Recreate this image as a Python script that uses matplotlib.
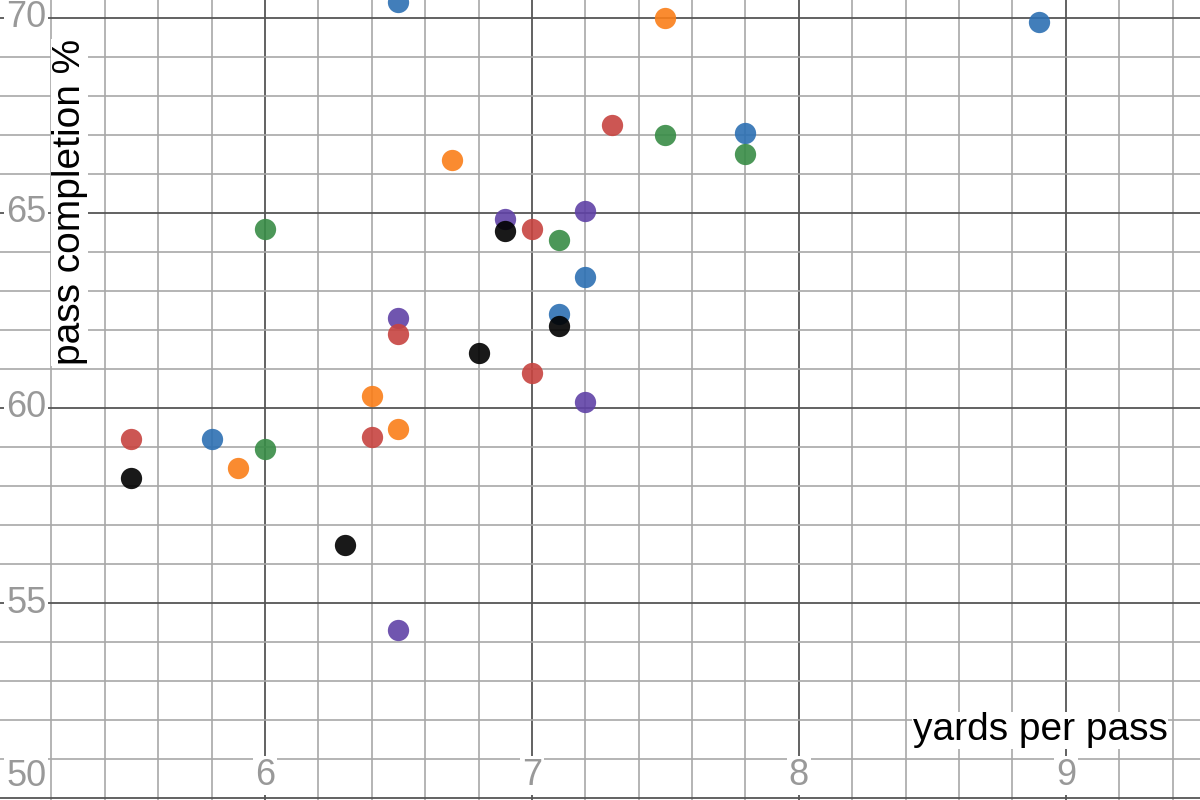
import numpy as np
import matplotlib
matplotlib.use("Agg")
import matplotlib.pyplot as plt
import matplotlib.transforms as mtransforms

plt.rcParams['font.family'] = ['Liberation Sans', 'DejaVu Sans']

# yards per pass / completion % per group
blue_x = [6.5, 8.9, 7.8, 7.2, 7.1, 5.8]
blue_y = [70.4, 69.9, 67.05, 63.35, 62.4, 59.2]
orange_x = [7.5, 6.7, 6.4, 6.5, 5.9]
orange_y = [70.0, 66.35, 60.3, 59.45, 58.45]
green_x = [7.5, 7.8, 6.0, 7.1, 6.0]
green_y = [67.0, 66.5, 64.6, 64.3, 58.95]
purple_x = [6.9, 7.2, 6.5, 7.2, 6.5]
purple_y = [64.85, 65.05, 62.3, 60.15, 54.3]
red_x = [7.3, 7.0, 6.5, 7.0, 5.5, 6.4]
red_y = [67.25, 64.6, 61.9, 60.9, 59.2, 59.25]
black_x = [6.9, 7.1, 6.8, 5.5, 6.3]
black_y = [64.55, 62.1, 61.4, 58.2, 56.5]

x_ticks = [6, 7, 8, 9]
y_ticks = [50, 55, 60, 65, 70]

fig = plt.figure(figsize=(12, 8), dpi=100)
ax = fig.add_axes([0, 0, 1, 1])
ax.set_xlim(5.0075, 9.5025)
ax.set_ylim(49.95, 70.46)
ax.axis('off')

# grid lines
for v in np.arange(5.2, 9.5, 0.2):
    major = abs(v - round(v)) < 1e-6
    ax.axvline(v, color='#555555' if major else '#a8a8a8', lw=1.3 if major else 1.2, zorder=1)
for v in range(50, 71):
    major = v % 5 == 0
    ax.axhline(v, color='#555555' if major else '#a8a8a8', lw=1.3 if major else 1.2, zorder=1)

groups = [(blue_x, blue_y, '#2d70b3'), (orange_x, orange_y, '#fa7e19'),
          (green_x, green_y, '#388c46'), (purple_x, purple_y, '#6042a6'),
          (red_x, red_y, '#c74440'), (black_x, black_y, '#000000')]
for gx, gy, c in groups:
    ax.scatter(gx, gy, s=235, color=c, alpha=0.9, linewidths=0, zorder=3)

box = dict(facecolor='white', edgecolor='none', pad=1.5)
tx = mtransforms.blended_transform_factory(ax.transData, ax.transAxes)
for v in x_ticks:
    ax.text(v, 0.031, str(v), transform=tx, ha='center', va='center',
            fontsize=26, color='#999999', bbox=box, zorder=4)
ty = mtransforms.blended_transform_factory(ax.transAxes, ax.transData)
for v in y_ticks:
    yy = v if v > 50 else 50.55
    ax.text(0.005, yy, str(v), transform=ty, ha='left', va='center',
            fontsize=26, color='#999999', bbox=box, zorder=4)

ax.text(0.973, 0.087, 'yards per pass', transform=ax.transAxes, ha='right', va='center',
        fontsize=28, color='black', bbox=dict(facecolor='white', edgecolor='none', pad=0.5), zorder=4)
ax.text(0.058, 0.747, 'pass completion %', transform=ax.transAxes, ha='center', va='center',
        rotation=90, fontsize=28, color='black',
        bbox=dict(facecolor='white', edgecolor='none', pad=0.5), zorder=4)

fig.savefig('out.png', dpi=100)
